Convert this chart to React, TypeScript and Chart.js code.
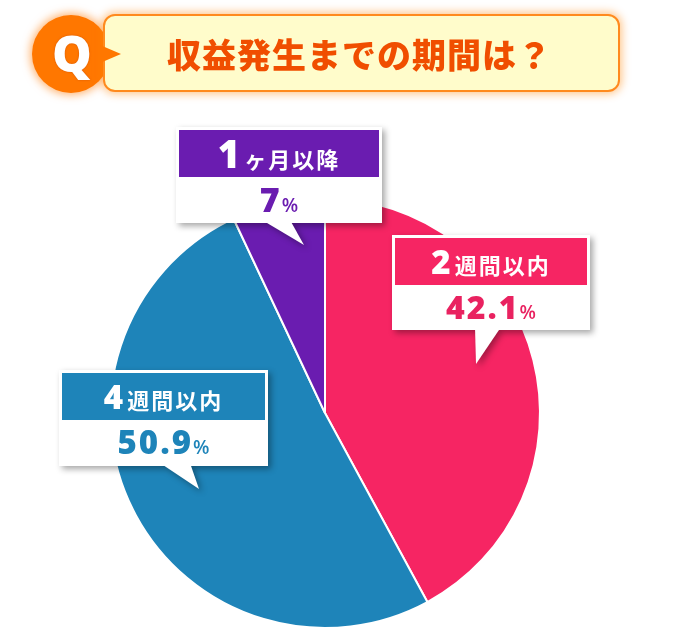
import React, { useEffect, useRef } from "react";
import { Chart, registerables } from "chart.js";

Chart.register(...registerables);

const categories = ["2週間以内", "4週間以内", "1ヶ月以降"];
const shares = [42.1, 50.9, 7];
const sliceColors = ["#F62563", "#1E84B9", "#6A1CB0"];
const valueColors = ["#E92260", "#1E84B9", "#6A1CB0"];

const TITLE = "収益発生までの期間は？";

const jp = '"Noto Sans CJK JP", "Noto Sans", sans-serif';
const num = '"Open Sans", "Noto Sans", sans-serif';

type CalloutProps = {
  index: number;
  left: number;
  top: number;
  width: number;
  headerH: number;
  bodyH: number;
  digitSize: number;
  valueSize: number;
  pointer: string;
};

const Callout: React.FC<CalloutProps> = ({
  index,
  left,
  top,
  width,
  headerH,
  bodyH,
  digitSize,
  valueSize,
  pointer,
}) => {
  const label = categories[index];
  const lead = label.slice(0, 1);
  const rest = label.slice(1);
  return (
    <div
      style={{
        position: "absolute",
        inset: 0,
        pointerEvents: "none",
        filter: "drop-shadow(3px 3px 3px rgba(0,0,0,0.35))",
      }}
    >
      <svg
        width={680}
        height={635}
        style={{ position: "absolute", left: 0, top: 0 }}
      >
        <polygon points={pointer} fill="#fff" />
      </svg>
      <div
        style={{
          position: "absolute",
          left,
          top,
          width,
          height: headerH + bodyH,
          background: "#fff",
          boxSizing: "border-box",
          padding: "3px 3px 0 3px",
        }}
      >
        <div
          style={{
            height: headerH - 3,
            background: sliceColors[index],
            color: "#fff",
            display: "flex",
            alignItems: "baseline",
            justifyContent: "center",
            lineHeight: `${headerH - 3}px`,
          }}
        >
          <span style={{ fontFamily: num, fontWeight: 800, fontSize: digitSize }}>
            {lead}
          </span>
          <span
            style={{
              fontFamily: jp,
              fontWeight: 700,
              fontSize: 22,
              marginLeft: 4,
              letterSpacing: 2,
            }}
          >
            {rest}
          </span>
        </div>
        <div
          style={{
            height: bodyH,
            color: valueColors[index],
            display: "flex",
            alignItems: "baseline",
            justifyContent: "center",
            lineHeight: `${bodyH - 2}px`,
          }}
        >
          <span
            style={{
              fontFamily: num,
              fontWeight: 800,
              fontSize: valueSize,
              letterSpacing: 2,
            }}
          >
            {shares[index]}
          </span>
          <span style={{ fontFamily: num, fontWeight: 600, fontSize: 19 }}>%</span>
        </div>
      </div>
    </div>
  );
};

const App: React.FC = () => {
  const canvasRef = useRef<HTMLCanvasElement>(null);
  const chartRef = useRef<Chart | null>(null);

  useEffect(() => {
    document.body.style.margin = "0";
    if (!canvasRef.current) return;
    if (chartRef.current) chartRef.current.destroy();

    chartRef.current = new Chart(canvasRef.current, {
      type: "pie",
      data: {
        labels: categories,
        datasets: [
          {
            data: shares,
            backgroundColor: sliceColors,
            borderColor: "#ffffff",
            borderWidth: 2,
          },
        ],
      },
      options: {
        responsive: false,
        animation: false,
        layout: {
          padding: { left: 109, right: 139, top: 197, bottom: 6 },
        },
        plugins: {
          legend: { display: false },
          tooltip: { enabled: false },
          title: { display: false },
        },
      },
    });

    return () => {
      if (chartRef.current) {
        chartRef.current.destroy();
        chartRef.current = null;
      }
    };
  }, []);

  return (
    <div
      style={{
        position: "relative",
        width: 680,
        height: 635,
        background: "#fff",
        overflow: "hidden",
      }}
    >
      <canvas
        ref={canvasRef}
        width={680}
        height={635}
        style={{ position: "absolute", left: 0, top: 0 }}
      />

      {/* title */}
      <div
        style={{
          position: "absolute",
          left: 32,
          top: 15,
          width: 78,
          height: 78,
          borderRadius: "50%",
          background: "#FF7700",
          boxShadow: "0 0 8px 2px rgba(255,120,0,0.55)",
        }}
      />
      <div
        style={{
          position: "absolute",
          left: 103,
          top: 14,
          width: 517,
          height: 78,
          boxSizing: "border-box",
          borderRadius: 12,
          background: "#FFFCCB",
          border: "2px solid #FF8A1E",
          boxShadow: "0 0 8px 2px rgba(255,130,0,0.45)",
          display: "flex",
          alignItems: "center",
          justifyContent: "center",
          paddingRight: 4,
          color: "#F04E00",
          fontFamily: jp,
          fontWeight: 900,
          fontSize: 34,
          letterSpacing: 1,
        }}
      >
        {TITLE}
      </div>
      <svg
        width={680}
        height={635}
        style={{ position: "absolute", left: 0, top: 0, pointerEvents: "none" }}
      >
        <polygon points="100,45 121,54 100,63" fill="#FF7700" />
      </svg>
      <div
        style={{
          position: "absolute",
          left: 33,
          top: 14,
          width: 78,
          height: 78,
          display: "flex",
          alignItems: "center",
          justifyContent: "center",
          color: "#fff",
          fontFamily: num,
          fontWeight: 800,
          fontSize: 50,
          lineHeight: "78px",
          textShadow: "0 0 2px rgba(180,60,0,0.6)",
        }}
      >
        Q
      </div>

      {/* callouts */}
      <Callout
        index={2}
        left={176}
        top={127}
        width={206}
        headerH={50}
        bodyH={46}
        digitSize={38}
        valueSize={34}
        pointer="262,220 290,220 304,245"
      />
      <Callout
        index={0}
        left={392}
        top={235}
        width={198}
        headerH={50}
        bodyH={45}
        digitSize={33}
        valueSize={32}
        pointer="475,327 501,327 476,364"
      />
      <Callout
        index={1}
        left={59}
        top={370}
        width={209}
        headerH={50}
        bodyH={46}
        digitSize={33}
        valueSize={33}
        pointer="160,463 190,463 199,489"
      />
    </div>
  );
};

export default App;
